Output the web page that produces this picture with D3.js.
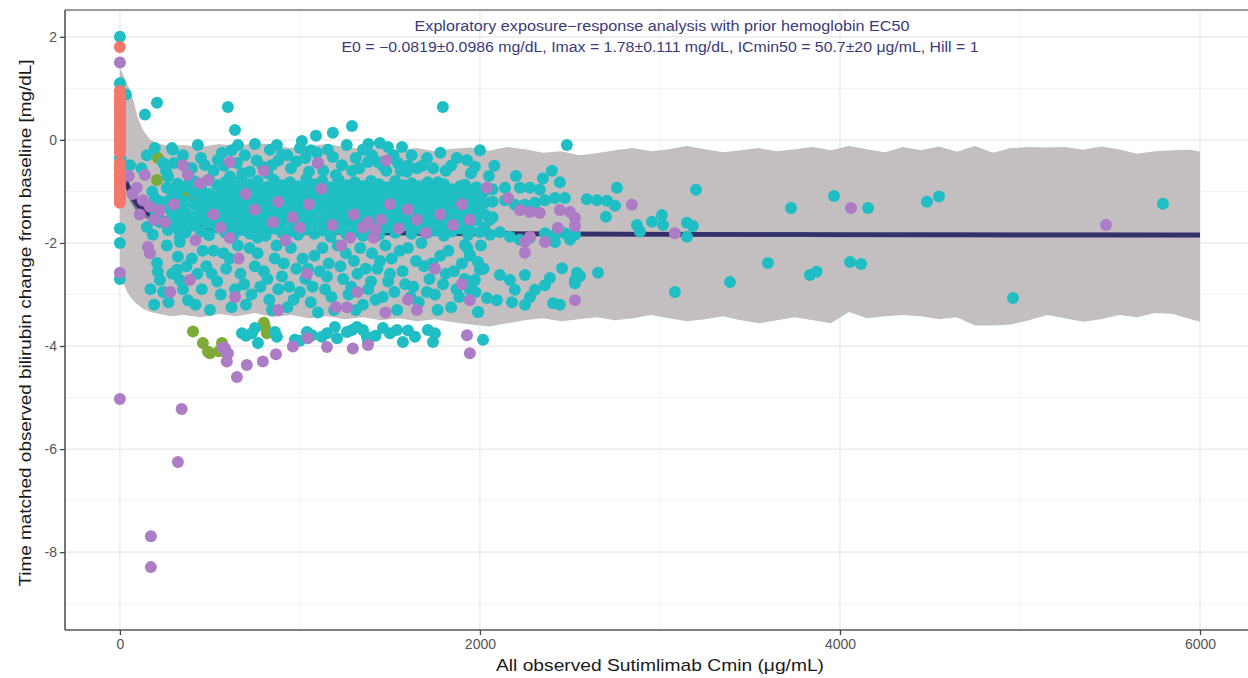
<!DOCTYPE html>
<html><head><meta charset="utf-8">
<script src="https://cdn.jsdelivr.net/npm/d3@7"></script>
<style>html,body{margin:0;padding:0;background:#fff;}svg{display:block;font-family:"Liberation Sans",Arial,sans-serif;}</style>
</head><body>
<svg id="chart" width="1248" height="678"></svg>
<script>
// ---------- DATA ----------
const xTicks = [0, 2000, 4000, 6000];
const yTicks = [2, 0, -2, -4, -6, -8];
const xMinor = [1000, 3000, 5000];
const yMinor = [1, -1, -3, -5, -7, -9];

const titleLine1 = "Exploratory exposure\u2212response analysis with prior hemoglobin EC50";
const titleLine2 = "E0 = \u22120.0819\u00b10.0986 mg/dL, Imax = 1.78\u00b10.111 mg/dL, ICmin50 = 50.7\u00b120 \u03bcg/mL, Hill = 1";
const xTitle = "All observed Sutimlimab Cmin (\u03bcg/mL)";
const yTitle = "Time matched observed bilirubin change from baseline [mg/dL]";

// prediction interval band
const bandX = [0,20,40,60,80,100,130,170,220,280,350,450,550,650,750,850,950,1050,1150,1250,1350,1450,1550,1650,1750,1850,1950,2050,2150,2250,2350,2450,2550,2650,2750,2850,2950,3050,3150,3250,3350,3450,3550,3650,3750,3850,3950,4050,4150,4250,4350,4450,4550,4650,4750,4850,4950,5050,5150,5250,5350,5450,5550,5650,5750,5850,5950,6000];
const bandUpper = [1.40,1.25,1.08,0.95,0.70,0.42,0.18,0.0,-0.08,-0.12,-0.10,-0.14,-0.08,-0.12,-0.06,-0.10,-0.16,-0.12,-0.08,-0.14,-0.18,-0.12,-0.20,-0.16,-0.22,-0.17,-0.15,-0.21,-0.14,-0.18,-0.25,-0.22,-0.30,-0.26,-0.20,-0.16,-0.22,-0.18,-0.12,-0.18,-0.24,-0.20,-0.16,-0.22,-0.18,-0.14,-0.20,-0.12,-0.18,-0.24,-0.14,-0.20,-0.13,-0.23,-0.12,-0.25,-0.16,-0.14,-0.15,-0.14,-0.19,-0.13,-0.18,-0.27,-0.22,-0.20,-0.19,-0.23];
const bandLower = [-2.60,-2.78,-2.95,-3.06,-3.14,-3.20,-3.28,-3.34,-3.38,-3.42,-3.40,-3.44,-3.38,-3.42,-3.36,-3.44,-3.40,-3.46,-3.42,-3.48,-3.44,-3.50,-3.46,-3.52,-3.48,-3.54,-3.58,-3.62,-3.56,-3.50,-3.46,-3.52,-3.48,-3.44,-3.50,-3.46,-3.40,-3.46,-3.52,-3.48,-3.42,-3.50,-3.56,-3.50,-3.44,-3.50,-3.56,-3.34,-3.46,-3.42,-3.40,-3.42,-3.48,-3.44,-3.60,-3.60,-3.58,-3.50,-3.40,-3.46,-3.53,-3.48,-3.40,-3.44,-3.36,-3.38,-3.48,-3.53];

// model fit line
const lineX = [0,10,25,50,75,100,150,200,300,500,800,1000,1500,2000,3000,4000,5000,6000];
const lineY = [-0.082,-0.375,-0.670,-0.966,-1.144,-1.263,-1.412,-1.502,-1.605,-1.698,-1.756,-1.776,-1.804,-1.818,-1.832,-1.839,-1.844,-1.847];
const lineHalfCI = [0.05,0.08,0.12,0.15,0.15,0.14,0.12,0.10,0.08,0.06,0.05,0.05,0.05,0.05,0.05,0.05,0.05,0.05];

// observations by group
const redPts = [[0,1.8],[0,0.95],[2,0.9],[0,0.85],[3,0.8],[0,0.75],[1,0.7],[0,0.65],[2,0.6],[0,0.55],[1,0.5],[0,0.45],[2,0.4],[0,0.35],[0,0.3],[1,0.25],[0,0.2],[2,0.15],[0,0.1],[1,0.05],[0,0.0],[0,-0.05],[2,-0.1],[0,-0.15],[1,-0.2],[0,-0.25],[0,-0.45],[2,-0.5],[0,-0.55],[1,-0.6],[0,-0.65],[0,-0.7],[2,-0.75],[0,-0.8],[1,-0.85],[0,-0.9],[0,-0.95],[2,-1.0],[0,-1.05],[1,-1.1],[0,-1.15],[0,-1.22]];

const greenPts = [[211,-0.35],[206,-0.78],[306,-1.13],[361,-1.07],[389,-1.04],[444,-1.17],[472,-1.46],[489,-1.61],[656,-0.93],[667,-1.2],[667,-1.49],[406,-3.72],[461,-3.94],[489,-4.11],[500,-4.14],[567,-3.94],[550,-4.1],[806,-3.63],[817,-3.75],[800,-3.55],[330,-1.2],[420,-1.1]];

const purplePts = [[0,1.5],[0,-2.58],[0,-5.03],[343,-5.22],[322,-6.25],[172,-7.69],[172,-8.29],
[583,-4.04],[600,-4.14],[594,-4.3],[650,-4.6],[705,-4.37],[794,-4.3],[867,-4.16],[961,-4.01],[1044,-3.85],[1150,-4.02],[1294,-4.05],[1378,-3.98],[1928,-3.79],[1944,-4.14],[572,-4.04],[594,-4.14],
[4061,-1.32],[5478,-1.65],[2844,-1.26],[3083,-1.81],[2528,-3.11],
[2039,-0.93],[2156,-1.13],[2222,-1.36],[2278,-1.4],[2333,-1.42],[1944,-1.55],[2278,-1.88],[2444,-1.36],[2500,-1.4],[2528,-1.51],[2528,-1.67],[2433,-1.71],[2250,-1.98],[2361,-1.98],[2250,-2.19],[1944,-3.11],
[139,-0.68],[94,-0.93],[128,-1.17],[167,-1.3],[222,-1.36],[156,-2.08],[167,-2.2],[389,-2.72],[350,-0.49],[611,-0.43],[489,-0.78],[378,-0.68],[444,-0.84],[50,-0.7],[70,-1.05],[110,-1.45],[190,-1.55],[250,-1.6],[300,-1.25],[280,-2.95],[420,-1.95],[520,-1.45],[560,-1.7],[700,-1.05],[750,-1.35],[850,-1.6],[920,-1.95],[1000,-1.7],[1050,-1.25],[1120,-0.95],[1180,-1.65],[1230,-2.05],[1300,-1.45],[1350,-1.7],[1410,-1.9],[1450,-1.55],[1500,-1.25],[1550,-1.72],[1600,-1.35],[1700,-1.8],[1780,-1.45],[1850,-1.65],[1900,-1.25],[660,-2.3],[1040,-2.6],[1320,-2.95],[1600,-3.1],[1750,-2.5],[880,-3.3],[1200,-3.25],[1475,-3.35],[1650,-3.3],[1900,-2.8],[800,-0.6],[1100,-0.45],[1480,-0.4],[610,-1.9],[640,-3.05],[1261,-3.25],
[1380,-1.6],[1420,-1.75],[1280,-1.9],[960,-1.5],[880,-1.2],[1650,-1.55]];

const cyanPts = [[0,2.0],[0,1.1],[33,0.88],[0,-0.35],[56,-0.49],[0,-1.72],[0,-2.0],[0,-2.7],[5,-0.38],
[206,0.72],[139,0.49],[600,0.64],[639,0.19],[1289,0.27],[1794,0.64],[1089,0.08],[1183,0.14],[1444,-0.06],[1011,-0.02],
[150,-0.3],[289,-0.16],[433,-0.1],[544,-0.39],[472,-0.49],[372,-0.54],[611,-0.71],[833,-0.19],[872,-0.1],[900,-0.29],[844,-0.49],[794,-0.52],[1000,-0.16],[1094,-0.25],[1156,-0.19],[1183,-0.33],[1233,-0.49],[1350,-0.19],[1378,-0.43],[1433,-0.43],[1544,-0.45],[1594,-0.62],[1706,-0.35],[1767,-0.82],[1872,-0.35],[1928,-0.39],[1972,-0.52],[1489,-0.14],[1567,-0.14],[694,-0.3],[722,-0.62],[256,-0.6],[300,-0.45],[950,-0.55],[1050,-0.62],[1290,-0.6],[1650,-0.55],[1810,-0.6],[2000,-0.2],[2080,-0.5],[656,-0.1],[567,-0.25],[750,-0.08],[1260,-0.1],[1620,-0.3],[1100,-0.45],[1480,-0.6],[194,-0.16],[294,-0.19],[267,-0.71],[261,-0.93],[194,-1.13],[150,-1.69],[183,-1.84],[267,-1.75],[333,-1.88],[222,-1.6],[120,-0.55],[180,-1.0],[230,-1.2],[200,-1.45],[240,-0.45],
[350,-0.3],[400,-0.55],[520,-0.6],[580,-0.5],[650,-0.45],[680,-0.65],[760,-0.4],[820,-0.65],[880,-0.4],[930,-0.3],[980,-0.42],[1030,-0.35],[1130,-0.6],[1200,-0.68],[1310,-0.35],[1330,-0.55],[1400,-0.3],[1460,-0.5],[1520,-0.3],[1560,-0.6],[1680,-0.5],[1740,-0.55],[1780,-0.25],[1840,-0.5],[1950,-0.65],[2050,-0.7],[2200,-0.7],[2350,-0.75],[2400,-0.6],[450,-0.35],[620,-0.2],[1060,-0.2],[1380,-0.08],[1600,-0.5],
[206,-2.39],[211,-2.56],[222,-2.72],[322,-2.27],[317,-2.52],[333,-2.72],[378,-3.11],[333,-1.98],[261,-2.05],[400,-2.3],[430,-2.6],[455,-2.9],[480,-2.45],[520,-2.15],[540,-2.75],[560,-3.0],[590,-2.5],[610,-2.3],[640,-2.9],[670,-2.6],[700,-3.2],[720,-2.1],[750,-2.45],[780,-2.85],[800,-2.55],[830,-3.1],[860,-2.3],[880,-2.9],[900,-2.65],[930,-3.25],[950,-2.1],[980,-2.5],[1000,-2.95],[1030,-2.7],[1060,-3.15],[1080,-2.25],[1110,-2.55],[1140,-2.9],[1160,-2.4],[1190,-3.3],[1210,-2.05],[1240,-2.7],[1270,-3.0],[1300,-2.35],[1320,-2.6],[1350,-3.2],[1380,-2.9],[1400,-2.2],[1430,-2.5],[1460,-3.05],[1490,-2.75],[1510,-2.3],[1540,-3.3],[1570,-2.55],[1600,-2.1],[1630,-2.85],[1660,-3.15],[1690,-2.45],[1720,-2.7],[1750,-3.0],[1780,-2.25],[1810,-2.6],[1840,-3.25],[1870,-2.9],[1900,-2.4],[1930,-2.1],[1960,-2.75],[1990,-3.34],[2020,-2.5],
[170,-2.9],[190,-3.2],[240,-2.95],[270,-3.15],[290,-2.6],[350,-2.9],[370,-2.45],[420,-3.2],[460,-2.15],[500,-3.3],[510,-2.6],[575,-2.2],[620,-3.25],[655,-2.05],[690,-2.8],[730,-3.0],[765,-2.2],[820,-2.7],[845,-3.3],[870,-2.05],[910,-2.4],[940,-2.85],[965,-3.1],[1015,-2.3],[1045,-2.5],[1070,-2.85],[1100,-3.35],[1125,-2.1],[1150,-2.65],[1175,-3.05],[1225,-2.45],[1255,-2.2],[1285,-2.85],[1310,-3.3],[1335,-2.1],[1365,-2.5],[1395,-2.75],[1420,-3.1],[1445,-2.35],[1475,-2.05],[1500,-2.6],[1525,-2.95],[1555,-2.15],[1585,-2.8],[1615,-3.05],[1645,-2.35],[1675,-2.0],[1705,-2.95],[1735,-2.4],[1765,-3.3],[1795,-2.8],[1825,-2.15],[1855,-2.55],[1885,-3.05],[1915,-2.7],[1945,-2.25],[1975,-2.95],[2005,-2.05],
[1944,-2.91],[2111,-2.62],[2167,-2.72],[2194,-2.91],[2250,-2.62],[2306,-2.91],[2361,-2.82],[2389,-2.68],[2278,-3.05],[2039,-3.07],[2094,-3.11],[2178,-3.15],[2250,-3.2],[2444,-3.2],[2556,-2.64],[2528,-2.78],[1989,-3.34],[2656,-2.58],[2539,-2.58],[2456,-2.49],[2406,-3.17],[1944,-2.23],[1989,-2.37],[2000,-2.52],[1972,-2.72],[1917,-2.04],
[1917,-0.87],[1944,-1.07],[1972,-1.17],[2000,-1.26],[1944,-1.46],[2056,-1.55],[2139,-0.93],[2222,-0.93],[2278,-0.93],[2333,-0.97],[2139,-1.17],[2194,-1.26],[2250,-1.26],[2306,-1.22],[2361,-1.17],[2417,-1.13],[2472,-1.13],[2444,-0.82],[1944,-1.75],[2000,-1.79],[2056,-1.84],[2111,-1.79],[2167,-1.88],[2222,-1.94],[2278,-1.9],[2361,-1.81],[2417,-1.84],[2472,-1.81],[2528,-1.84],[2417,-1.98],[2500,-1.94],
[2483,-0.1],[2761,-0.93],[2594,-1.15],[2650,-1.17],[2706,-1.18],[2750,-1.28],[2700,-1.49],[2872,-1.65],[2889,-1.78],[2956,-1.59],[3011,-1.46],[3017,-1.65],[3150,-1.61],[3183,-1.67],[3150,-1.88],[3200,-0.97],[2528,-2.72],[3083,-2.95],[3389,-2.76],[3600,-2.39],[3728,-1.32],[3833,-2.62],[3870,-2.56],[3967,-1.09],[4056,-2.37],[4117,-2.41],[4156,-1.32],[4483,-1.2],[4550,-1.1],[4961,-3.07],[5794,-1.24],
[678,-3.75],[733,-3.75],[767,-3.94],[861,-3.73],[872,-3.82],[972,-3.88],[1039,-3.73],[1067,-3.79],[1122,-3.82],[1194,-3.63],[1206,-3.85],[1261,-3.73],[1289,-3.69],[1317,-3.63],[1350,-3.69],[1372,-3.82],[1378,-3.92],[1461,-3.65],[1500,-3.75],[1539,-3.69],[1572,-3.92],[1639,-3.82],[1711,-3.69],[1750,-3.75],[1739,-3.92],[2017,-3.88],[700,-3.8],[750,-3.65],[1000,-3.9],[1150,-3.75],[1420,-3.8],[1600,-3.7]];

// dense core of cyan observations, listed as [Cmin, [responses...]]
const cyanCore = [
[280,[-0.95,-1.15,-1.35,-1.55]],
[320,[-0.85,-1.05,-1.3,-1.5,-1.72]],
[365,[-0.9,-1.2,-1.42,-1.6,-1.8]],
[410,[-0.8,-1.02,-1.25,-1.48,-1.66]],
[450,[-0.95,-1.15,-1.32,-1.55,-1.78]],
[495,[-0.78,-1.05,-1.22,-1.4,-1.62,-1.85]],
[540,[-0.88,-1.1,-1.3,-1.52,-1.7]],
[585,[-0.82,-1.0,-1.18,-1.38,-1.58,-1.8]],
[630,[-0.9,-1.12,-1.28,-1.46,-1.66,-1.86]],
[675,[-0.76,-0.98,-1.2,-1.36,-1.55,-1.75]],
[720,[-0.86,-1.06,-1.24,-1.44,-1.62,-1.82]],
[765,[-0.8,-1.0,-1.16,-1.34,-1.52,-1.7,-1.9]],
[810,[-0.92,-1.1,-1.3,-1.48,-1.68,-1.86]],
[855,[-0.78,-0.96,-1.14,-1.32,-1.5,-1.72]],
[900,[-0.88,-1.08,-1.26,-1.42,-1.6,-1.8]],
[945,[-0.82,-1.02,-1.2,-1.38,-1.56,-1.78]],
[990,[-0.9,-1.1,-1.28,-1.46,-1.64,-1.84]],
[1035,[-0.76,-0.96,-1.16,-1.34,-1.54,-1.74]],
[1080,[-0.86,-1.04,-1.22,-1.4,-1.6,-1.82]],
[1125,[-0.8,-1.0,-1.18,-1.36,-1.58,-1.76]],
[1170,[-0.92,-1.12,-1.3,-1.5,-1.7,-1.88]],
[1215,[-0.78,-0.98,-1.16,-1.34,-1.52,-1.72]],
[1260,[-0.88,-1.06,-1.24,-1.44,-1.62,-1.84]],
[1305,[-0.82,-1.02,-1.2,-1.4,-1.58,-1.78]],
[1350,[-0.9,-1.1,-1.28,-1.46,-1.66,-1.86]],
[1395,[-0.8,-1.0,-1.18,-1.36,-1.56,-1.74]],
[1440,[-0.86,-1.06,-1.26,-1.44,-1.64,-1.84]],
[1485,[-0.92,-1.12,-1.3,-1.5,-1.7]],
[1530,[-0.8,-1.0,-1.2,-1.38,-1.58,-1.8]],
[1575,[-0.88,-1.08,-1.26,-1.46,-1.66]],
[1620,[-0.84,-1.04,-1.22,-1.42,-1.62,-1.82]],
[1665,[-0.9,-1.1,-1.3,-1.5,-1.72]],
[1710,[-0.82,-1.02,-1.2,-1.4,-1.6,-1.8]],
[1755,[-0.94,-1.14,-1.34,-1.54,-1.76]],
[1800,[-0.86,-1.06,-1.26,-1.46,-1.66,-1.86]],
[1845,[-0.96,-1.16,-1.36,-1.58,-1.78]],
[1890,[-0.9,-1.1,-1.3,-1.5,-1.72]],
[1935,[-0.98,-1.2,-1.4,-1.62,-1.84]],
[1980,[-0.92,-1.14,-1.34,-1.56]],
[2025,[-1.0,-1.22,-1.44,-1.7]],
[2070,[-0.96,-1.2,-1.5]]
];

const groupColors = {red:"#f4776c", green:"#7eaa38", cyan:"#1fbec4", purple:"#ad7cc7"};

// ---------- CHART ----------
const svg = d3.select("#chart");
const P = {left:65, top:10, right:1254, bottom:630};
const x = d3.scaleLinear().domain([-305, 6300]).range([P.left, P.right]);
const y = d3.scaleLinear().domain([-9.51, 2.52]).range([P.bottom, P.top]);

svg.append("rect").attr("width",1248).attr("height",678).attr("fill","#fff");
svg.append("defs").append("clipPath").attr("id","clip")
  .append("rect").attr("x",P.left).attr("y",P.top).attr("width",P.right-P.left).attr("height",P.bottom-P.top);

const grid = svg.append("g");
grid.selectAll(".vminor").data(xMinor).join("line")
  .attr("x1",d=>x(d)).attr("x2",d=>x(d)).attr("y1",P.top).attr("y2",P.bottom)
  .attr("stroke","#f3f3f3").attr("stroke-width",1);
grid.selectAll(".hminor").data(yMinor).join("line")
  .attr("y1",d=>y(d)).attr("y2",d=>y(d)).attr("x1",P.left).attr("x2",P.right)
  .attr("stroke","#f3f3f3").attr("stroke-width",1);
grid.selectAll(".vmajor").data(xTicks).join("line")
  .attr("x1",d=>x(d)).attr("x2",d=>x(d)).attr("y1",P.top).attr("y2",P.bottom)
  .attr("stroke","#e8e8e8").attr("stroke-width",1.2);
grid.selectAll(".hmajor").data(yTicks).join("line")
  .attr("y1",d=>y(d)).attr("y2",d=>y(d)).attr("x1",P.left).attr("x2",P.right)
  .attr("stroke","#e8e8e8").attr("stroke-width",1.2);

const plot = svg.append("g").attr("clip-path","url(#clip)");

const band = bandX.map((d,i)=>({x:d, lo:bandLower[i], hi:bandUpper[i]}));
plot.append("path").datum(band)
  .attr("d", d3.area().x(d=>x(d.x)).y0(d=>y(d.lo)).y1(d=>y(d.hi)))
  .attr("fill","#c3bfc1");

const fit = lineX.map((d,i)=>({x:d, y:lineY[i], h:lineHalfCI[i]}));
plot.append("path").datum(fit)
  .attr("d", d3.area().curve(d3.curveMonotoneX).x(d=>x(d.x)).y0(d=>y(d.y-d.h)).y1(d=>y(d.y+d.h)))
  .attr("fill","#77728a");
plot.append("path").datum(fit)
  .attr("d", d3.line().curve(d3.curveMonotoneX).x(d=>x(d.x)).y(d=>y(d.y)))
  .attr("fill","none").attr("stroke","#33306a").attr("stroke-width",4.5);

const corePts = [];
cyanCore.forEach(([cx, ys]) => ys.forEach(v => corePts.push([cx, v])));
const allCyan = corePts.concat(cyanPts);

function drawPts(pts, color){
  plot.append("g").selectAll("circle").data(pts).join("circle")
    .attr("cx",d=>x(d[0])).attr("cy",d=>y(d[1])).attr("r",6).attr("fill",color);
}
drawPts(greenPts, groupColors.green);
drawPts(allCyan, groupColors.cyan);
drawPts(purplePts, groupColors.purple);
drawPts(redPts, groupColors.red);

// panel border
svg.append("line").attr("x1",P.left).attr("x2",1248).attr("y1",P.top).attr("y2",P.top).attr("stroke","#7a7a7a").attr("stroke-width",1.6);
svg.append("line").attr("x1",P.left).attr("x2",P.left).attr("y1",P.top).attr("y2",P.bottom).attr("stroke","#555").attr("stroke-width",1.6);
svg.append("line").attr("x1",P.left).attr("x2",1248).attr("y1",P.bottom).attr("y2",P.bottom).attr("stroke","#555").attr("stroke-width",1.6);

// axes
const yAxis = svg.append("g").attr("transform",`translate(${P.left},0)`)
  .call(d3.axisLeft(y).tickValues(yTicks).tickFormat(d=>String(d)).tickSize(5).tickPadding(3));
const xAxis = svg.append("g").attr("transform",`translate(0,${P.bottom})`)
  .call(d3.axisBottom(x).tickValues(xTicks).tickFormat(d=>String(d)).tickSize(5).tickPadding(4));
[yAxis,xAxis].forEach(a=>{
  a.select(".domain").remove();
  a.selectAll(".tick line").attr("stroke","#444").attr("stroke-width",1.3);
  a.selectAll(".tick text").attr("fill","#555").attr("font-size",14).attr("font-family","Liberation Sans, Arial, sans-serif");
});

// titles
svg.append("text").attr("x",662).attr("y",31).attr("text-anchor","middle")
  .attr("font-size",14).attr("fill","#3b3a7a").attr("textLength",495).attr("lengthAdjust","spacingAndGlyphs")
  .text(titleLine1);
svg.append("text").attr("x",660).attr("y",52).attr("text-anchor","middle")
  .attr("font-size",14).attr("fill","#3b3a7a").attr("textLength",637).attr("lengthAdjust","spacingAndGlyphs")
  .text(titleLine2);
svg.append("text").attr("x",660).attr("y",671).attr("text-anchor","middle")
  .attr("font-size",17).attr("fill","#1a1a1a").attr("textLength",328).attr("lengthAdjust","spacingAndGlyphs")
  .text(xTitle);
svg.append("text").attr("transform","translate(31,323) rotate(-90)").attr("text-anchor","middle")
  .attr("font-size",17).attr("fill","#1a1a1a").attr("textLength",527).attr("lengthAdjust","spacingAndGlyphs")
  .text(yTitle);
</script>
</body></html>
